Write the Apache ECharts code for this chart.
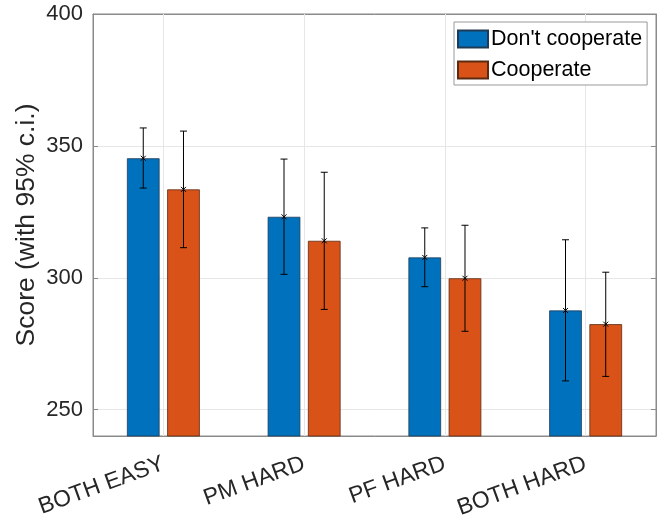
<!DOCTYPE html>
<html>
<head>
<meta charset="utf-8">
<script src="https://cdn.jsdelivr.net/npm/echarts@6/dist/echarts.min.js"></script>
<style>
html,body{margin:0;padding:0;background:#fff;}
#chart{width:669px;height:518px;}
</style>
</head>
<body>
<div id="chart"></div>
<script>
const categories = ['BOTH EASY', 'PM HARD', 'PF HARD', 'BOTH HARD'];
const seriesNames = ["Don't cooperate", 'Cooperate'];
const dontMean = [345.3, 323.1, 307.7, 287.6];
const dontLow  = [334.0, 301.3, 296.6, 260.9];
const dontHigh = [356.8, 345.0, 318.9, 314.4];
const coopMean = [333.5, 314.0, 299.8, 282.4];
const coopLow  = [311.4, 288.0, 279.7, 262.6];
const coopHigh = [355.6, 340.0, 319.9, 302.1];
const yTicks = [250, 300, 350, 400];

const FONT = 'Liberation Sans, Arial, Helvetica, sans-serif';
const TXT = '#262626';
const AX = '#8a8a8a';
const GRIDC = '#e6e6e6';
const BAR_W = 0.232;   // fraction of category width
const BAR_GAP = 0.232; // fraction of bar width

function errSeries(means, lows, highs, sign) {
  return {
    type: 'custom',
    silent: true,
    z: 5,
    data: means.map((m, i) => [i, lows[i], highs[i], m]),
    encode: { x: 0, y: [1, 2] },
    renderItem: function (params, api) {
      const catW = api.size([1, 0])[0];
      const bw = catW * BAR_W;
      const off = sign * (bw + bw * BAR_GAP) / 2;
      const lo = api.coord([api.value(0), api.value(1)]);
      const hi = api.coord([api.value(0), api.value(2)]);
      const mid = api.coord([api.value(0), api.value(3)]);
      const x = lo[0] + off;
      const c = 3.5, m = 2.5;
      const st = { stroke: '#000', lineWidth: 1, fill: null };
      return {
        type: 'group',
        children: [
          { type: 'line', shape: { x1: x, y1: lo[1], x2: x, y2: hi[1] }, style: st },
          { type: 'line', shape: { x1: x - c, y1: lo[1], x2: x + c, y2: lo[1] }, style: st },
          { type: 'line', shape: { x1: x - c, y1: hi[1], x2: x + c, y2: hi[1] }, style: st },
          { type: 'line', shape: { x1: x - m, y1: mid[1] - m, x2: x + m, y2: mid[1] + m }, style: st },
          { type: 'line', shape: { x1: x - m, y1: mid[1] + m, x2: x + m, y2: mid[1] - m }, style: st }
        ]
      };
    }
  };
}

const yCommon = {
  type: 'value',
  min: 240, max: 400,
  splitNumber: 3
};

const chart = echarts.init(document.getElementById('chart'), null, { renderer: 'canvas' });
chart.setOption({
  animation: false,
  backgroundColor: '#fff',
  textStyle: { fontFamily: FONT },
  grid: { left: 93, right: 13, top: 14, bottom: 82, containLabel: false, outerBoundsMode: 'none',
    show: true, borderColor: AX, borderWidth: 1, backgroundColor: 'transparent' },
  legend: {
    orient: 'vertical',
    left: 454, top: 22,
    padding: [6, 5, 4, 3],
    itemGap: 9,
    itemWidth: 30, itemHeight: 17,
    backgroundColor: '#fff',
    borderColor: '#999', borderWidth: 1,
    textStyle: { fontSize: 21.5, color: '#000', fontFamily: FONT, padding: [0, 0, 0, -2] },
    data: seriesNames.map(n => ({ name: n, icon: 'rect' }))
  },
  xAxis: [{
    type: 'category',
    data: categories,
    boundaryGap: true,
    axisLine: { show: true, lineStyle: { color: AX } },
    axisTick: { show: true, alignWithLabel: true, inside: true, length: 5, lineStyle: { color: AX } },
    axisLabel: { rotate: 20, fontSize: 23, color: TXT, margin: 27, fontFamily: FONT },
    splitLine: { show: false }
  }, {
    type: 'category',
    data: categories,
    position: 'top',
    boundaryGap: true,
    axisLine: { show: true, lineStyle: { color: AX } },
    axisTick: { show: true, alignWithLabel: true, inside: true, length: 5, lineStyle: { color: AX } },
    axisLabel: { show: false }
  }],
  yAxis: [Object.assign({}, yCommon, {
    name: 'Score (with 95% c.i.)',
    nameLocation: 'middle',
    nameGap: 53,
    nameMoveOverlap: false,
    nameTextStyle: { fontSize: 26.5, color: TXT, fontFamily: FONT },
    axisLine: { show: true, lineStyle: { color: AX } },
    axisTick: { show: true, inside: true, length: 5, lineStyle: { color: AX } },
    axisLabel: { fontSize: 22, color: TXT, margin: 10, fontFamily: FONT,
      formatter: v => yTicks.indexOf(v) >= 0 ? String(v) : '' },
    splitLine: { show: true, lineStyle: { color: GRIDC, width: 1 } }
  }), Object.assign({}, yCommon, {
    position: 'right',
    axisLine: { show: true, lineStyle: { color: AX } },
    axisTick: { show: true, inside: true, length: 5, lineStyle: { color: AX } },
    axisLabel: { show: false },
    splitLine: { show: false }
  })],
  series: [{
    type: 'line',
    data: [],
    silent: true,
    z: 1,
    markLine: {
      silent: true, symbol: 'none', label: { show: false },
      lineStyle: { color: GRIDC, type: 'solid', width: 1 },
      z: 1,
      data: categories.map(c => ({ xAxis: c }))
    }
  }, {
    name: seriesNames[0],
    type: 'bar',
    data: dontMean,
    barWidth: (BAR_W * 100) + '%',
    barGap: (BAR_GAP * 100) + '%',
    itemStyle: { color: '#0072BD', borderColor: '#1f3a55', borderWidth: 0.8 },
    z: 3
  }, {
    name: seriesNames[1],
    type: 'bar',
    data: coopMean,
    barWidth: (BAR_W * 100) + '%',
    barGap: (BAR_GAP * 100) + '%',
    itemStyle: { color: '#D95319', borderColor: '#5a2a12', borderWidth: 0.8 },
    z: 3
  },
  errSeries(dontMean, dontLow, dontHigh, -1),
  errSeries(coopMean, coopLow, coopHigh, 1)
  ]
});
</script>
</body>
</html>
